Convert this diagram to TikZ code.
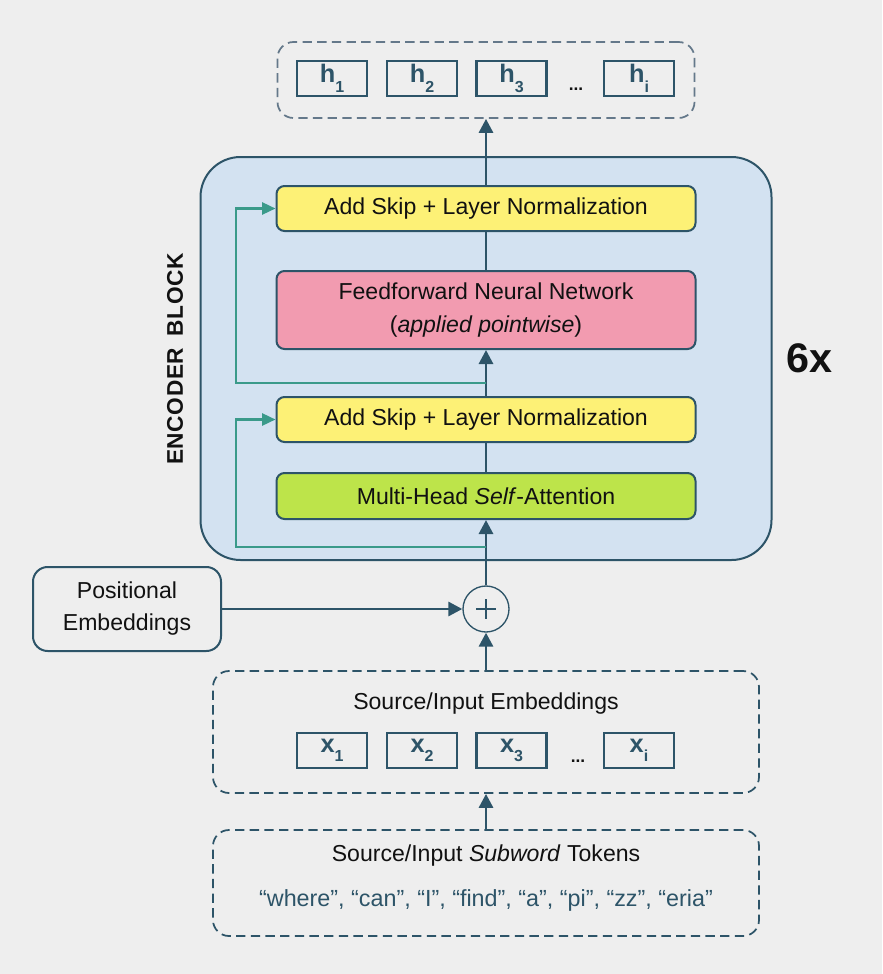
\documentclass[tikz,border=0pt]{standalone}
\usepackage{fontspec}
\setmainfont{Liberation Sans}
\usetikzlibrary{arrows.meta,calc}
\definecolor{bg}{HTML}{EEEEEE}
\definecolor{dk}{HTML}{2D5468}
\definecolor{dkl}{HTML}{64788A}
\definecolor{encf}{HTML}{D3E2F1}
\definecolor{yel}{HTML}{FDF176}
\definecolor{pnk}{HTML}{F29BB0}
\definecolor{grn}{HTML}{BDE44A}
\definecolor{teal}{HTML}{3A9A8A}
\definecolor{txt}{HTML}{111111}
\tikzset{
  lay/.style={draw=dk, line width=1.5pt, rounded corners=6pt, minimum width={419*0.75pt}, align=center, font=\fontsize{17.3}{25}\selectfont, text=txt},
  vec/.style={draw=dk, line width=1.6pt, minimum width={70*0.75pt}, minimum height={35*0.75pt}, inner sep=0pt, text=dk, font=\fontsize{19}{19}\selectfont\bfseries},
  dbox/.style={draw=dk, dashed, dash pattern=on 7pt off 4pt, line width=1.3pt, rounded corners=12pt},
  conn/.style={draw=dk, line width=2.2pt, -{Triangle[length=10.5pt,width=10.5pt]}},
  plain/.style={draw=dk, line width=2.2pt},
  skipc/.style={draw=teal, line width=1.8pt, -{Triangle[length=10pt,width=9pt]}},
}
\newcommand{\vsub}[2]{#1\raisebox{-0.7ex}{\fontsize{12}{12}\selectfont #2}}
\begin{document}
\begin{tikzpicture}[x=0.75pt,y=-0.75pt]
\fill[bg] (0,0) rectangle (882,974);
\useasboundingbox (0,0) rectangle (882,974);
% encoder block
\node[draw=dk, fill=encf, line width=1.5pt, rounded corners=30pt, minimum width={571*0.75pt}, minimum height={403*0.75pt}] (enc) at (486,358.5) {};
\node[rotate=90, font=\fontsize{17}{17}\selectfont\bfseries, text=txt] (enclab) at (175,359) {E\kern0.5pt N\kern0.5pt C\kern0.5pt O\kern0.5pt D\kern0.5pt E\kern0.5pt R\enspace B\kern0.5pt L\kern0.5pt O\kern0.5pt C\kern0.5pt K};
\node[font=\fontsize{31}{31}\selectfont\bfseries, text=txt] (six) at (809,358) {6x};
% layers
\node[lay, fill=yel, minimum height={45*0.75pt}] (as1) at (486,208.5) {Add Skip + Layer Normalization};
\node[lay, fill=pnk, minimum height={78*0.75pt}] (ffn) at (486,310) {Feedforward Neural Network\\(\textit{applied pointwise})};
\node[lay, fill=yel, minimum height={45*0.75pt}] (as2) at (486,419.5) {Add Skip + Layer Normalization};
\node[lay, fill=grn, minimum height={46*0.75pt}] (mha) at (486,496) {Multi-Head \textit{Self}-Attention};
% top output box
\node[dbox, draw=dkl, minimum width={417*0.75pt}, minimum height={76*0.75pt}] (outb) at (486,80) {};
\node[vec] (h1) at (332,78.5) {\vsub{h}{1}};
\node[vec] (h2) at (422,78.5) {\vsub{h}{2}};
\node[vec] (h3) at (511.5,78.5) {\vsub{h}{3}};
\node[vec] (hi) at (639,78.5) {\vsub{h}{i}};
\node[text=txt, font=\fontsize{13}{13}\selectfont\bfseries] (hdots) at (576,89) {...};
% plus
\node[draw=dk, circle, line width=1pt, minimum size={46*0.75pt}, inner sep=0pt, fill=bg] (plus) at (486,609) {};
\draw[dk, line width=0.8pt] ($(plus.center)+(-10,0)$) -- ($(plus.center)+(10,0)$) ($(plus.center)+(0,-10)$) -- ($(plus.center)+(0,10)$);
% positional
\node[draw=dk, line width=1.5pt, rounded corners=11pt, minimum width={188*0.75pt}, minimum height={84*0.75pt}, align=center, font=\fontsize{17.3}{24}\selectfont, text=txt] (pos) at (127,609) {Positional\\Embeddings};
% embeddings box
\node[dbox, minimum width={546*0.75pt}, minimum height={122*0.75pt}] (emb) at (486,732) {};
\node[text=txt, font=\fontsize{17.3}{17.3}\selectfont] (embt) at (486,704) {Source/Input Embeddings};
\node[vec] (x1) at (332,750.5) {\vsub{x}{1}};
\node[vec] (x2) at (422,750.5) {\vsub{x}{2}};
\node[vec] (x3) at (511.5,750.5) {\vsub{x}{3}};
\node[vec] (xi) at (639,750.5) {\vsub{x}{i}};
\node[text=txt, font=\fontsize{13}{13}\selectfont\bfseries] (xdots) at (578,761) {...};
% tokens box
\node[dbox, minimum width={546*0.75pt}, minimum height={106*0.75pt}] (tok) at (486,883) {};
\node[text=txt, font=\fontsize{17.3}{17.3}\selectfont] (tokt) at (486,856) {Source/Input \textit{Subword} Tokens};
\node[text=dk, font=\fontsize{17.5}{17.5}\selectfont] (tokl) at (486,900) {“where”, “can”, “I”, “find”, “a”, “pi”, “zz”, “eria”};
% connectors
\draw[conn] (tok.north) -- (emb.south);
\draw[conn] (emb.north) -- (plus.south);
\draw[conn] (pos.east) -- (plus.west);
\draw[conn] (plus.north) -- (mha.south);
\draw[plain] (mha.north) -- (as2.south);
\draw[conn] (as2.north) -- (ffn.south);
\draw[plain] (ffn.north) -- (as1.south);
\draw[conn] (as1.north) -- (outb.south);
% skips
\coordinate (s1) at (486,547);
\coordinate (k1) at (236,547);
\coordinate (s2) at (486,383);
\coordinate (k2) at (236,383);
\draw[skipc] (s1) -- (k1) |- (as2.west);
\draw[skipc] (s2) -- (k2) |- (as1.west);
\end{tikzpicture}
\end{document}
